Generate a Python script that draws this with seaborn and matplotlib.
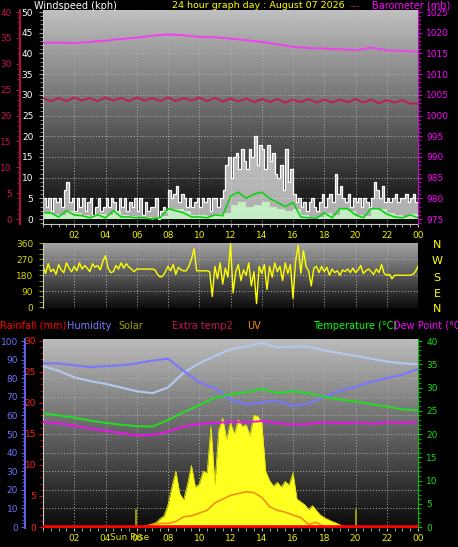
import numpy as np
import pandas as pd
import seaborn as sns
import matplotlib
matplotlib.use("Agg")
import matplotlib.pyplot as plt
from matplotlib.ticker import MultipleLocator

plt.rcParams["font.family"] = ["DejaVu Sans"]

# ---------------- data ----------------
# wind gust, kph, every 10 min from 00:00 to 24:00
gust = [5, 3, 5, 2, 5, 4,  5, 3, 7, 9, 4, 5,  2, 5, 3, 5, 2, 4,  5, 1, 3, 5, 2, 3,
        5, 3, 5, 4, 2, 5,  3, 5, 2, 4, 3, 5,  2, 5, 1, 4, 2, 3,  3, 5, 0, 2, 3, 2,
        7, 5, 6, 8, 4, 6,  5, 3, 5, 3, 4, 5,  3, 5, 4, 5, 2, 5,  5, 3, 5, 7, 13, 15,
        10, 15, 16, 12, 17, 14,  12, 17, 15, 20, 13, 18,  17, 12, 18, 14, 16, 11,
        10, 13, 7, 17, 9, 12,  6, 4, 5, 3, 4, 2,  4, 5, 3, 2, 4, 6,
        3, 5, 6, 4, 11, 6,  8, 5, 4, 6, 3, 5,  4, 5, 3, 5, 4, 3,  5, 9, 7, 5, 8, 4,
        5, 4, 5, 6, 4, 5,  5, 6, 4, 5, 6, 4,  5]
# wind speed and average wind, kph, every 30 min
wind_speed = [1.5, 1.2, 1.0, 2.0, 1.5, 1.0, 0.8, 1.2, 1.0, 2.0, 1.0, 0.8, 0.5, 0.5, 0.3, 0.8,
              2.5, 2.5, 2.0, 1.0, 1.0, 0.8, 1.2, 1.5, 3.5, 4.0, 3.0, 3.5, 4.0, 3.0, 2.5, 2.0,
              2.5, 1.0, 0.5, 0.5, 1.5, 1.0, 2.5, 2.0, 1.0, 0.8, 2.5, 2.5, 1.5, 1.0, 0.8, 1.2, 0.8]
wind_avg = [1.5, 1.5, 0.5, 2.0, 1.0, 0.8, 0.3, 1.0, 0.3, 2.0, 0.5, 0.5, 0.3, 0.3, 0.0, 0.3,
            2.5, 2.0, 1.5, 0.5, 0.5, 0.3, 1.0, 0.8, 5.5, 6.5, 5.0, 6.0, 6.5, 5.0, 4.0, 3.0,
            4.0, 0.5, 0.3, 0.2, 1.5, 0.3, 2.5, 2.5, 1.0, 0.3, 2.5, 2.5, 1.2, 0.5, 0.3, 1.0, 0.3]
# barometer, mb, hourly
pressure = [1017.6, 1017.6, 1017.5, 1017.8, 1018.1, 1018.5, 1018.8, 1019.3, 1019.6, 1019.4,
            1019.0, 1018.9, 1018.6, 1018.2, 1017.8, 1017.2, 1016.6, 1016.3, 1016.2, 1016.0,
            1015.8, 1016.4, 1015.8, 1015.6, 1015.4]
# extra temperature sensor (crimson), every 30 min
extra_temp = [23.4, 22.8, 23.4, 22.8, 23.5, 22.9, 23.4, 22.8, 23.5, 22.9, 23.4, 22.8, 23.5,
              22.9, 23.4, 22.8, 23.5, 22.8, 23.4, 22.9, 23.5, 22.8, 23.4, 22.7, 23.3, 22.7,
              23.3, 22.6, 23.2, 22.6, 23.2, 22.5, 23.1, 22.6, 23.2, 22.5, 23.1, 22.5, 23.1,
              22.6, 23.2, 22.5, 23.1, 22.4, 23.0, 22.5, 23.0, 22.3, 22.3]
# wind direction, degrees, every 10 min
wind_dir = [230, 190, 245, 200, 215, 185,  240, 210, 195, 250, 220, 200,
            230, 205, 250, 215, 235, 220,  200, 245, 225, 235, 210, 260,
            290, 220, 195, 200, 235, 215,  250, 220, 245, 225, 215, 200,
            215, 215, 215, 215, 215, 215,  215, 210, 185, 170, 175, 200,
            230, 205, 240, 185, 225, 210,  205, 205, 230, 270, 330, 205,
            205, 205, 205, 205, 200, 60,   230, 160, 250, 130, 220, 170,
            360, 80, 200, 240, 150, 210,   180, 250, 120, 200, 20, 230,
            190, 240, 100, 230, 170, 250,  200, 230, 150, 250, 190, 240,
            50, 260, 350, 190, 320, 230,   205, 120, 220, 230, 195, 230,
            200, 225, 180, 215, 195, 205,  180, 210, 200, 215, 195, 220,
            195, 210, 235, 190, 205, 215,  200, 185, 215, 195, 240, 190,
            180, 185, 160, 180, 180, 180,  180, 180, 180, 180, 185, 200, 230]
# temperature, dew point, humidity (two sensors), hourly
temperature = [24.5, 24.0, 23.5, 22.9, 22.4, 22.0, 21.7, 21.6, 23.0, 24.7, 26.2, 27.8, 28.5,
               29.0, 29.7, 28.8, 29.2, 28.8, 28.0, 27.4, 27.0, 26.4, 25.9, 25.3, 25.1]
dew_point = [22.6, 22.3, 21.8, 21.2, 20.7, 20.2, 19.7, 19.8, 20.5, 21.6, 22.2, 22.4, 22.6,
             22.5, 22.8, 22.4, 22.0, 22.2, 22.6, 22.3, 22.5, 22.2, 22.6, 22.4, 22.6]
humidity = [88, 88, 87, 86, 86.5, 87, 88, 89.5, 90.5, 84, 78, 74.5, 68.5, 66, 67, 68, 65,
            66.5, 70, 73, 75.5, 78, 80, 82, 85]
humidity2 = [86.5, 84, 80.5, 78.5, 77, 75, 73, 72, 75, 83, 88, 92, 95.5, 97, 99, 96.5, 97,
             97, 95, 93.5, 92, 90.5, 89, 88, 87.5]
# solar radiation, every 15 min
solar = [0] * 24 + [0, 0, 5, 10, 15, 25, 45, 60, 120, 215, 300, 180, 145, 230, 330, 215,
                    230, 300, 290, 540, 230, 520, 585, 470, 560, 500, 575, 540,
                    550, 490, 600, 595, 560, 300, 250, 220, 240, 215, 245, 225,
                    290, 150, 135, 120, 95, 115, 88, 65, 50, 40, 30, 22, 12, 5, 0, 0] + [0] * 17
# UV index, every 30 min
uv = [0] * 14 + [0.3, 0.4, 0.4, 0.6, 1.1, 1.2, 1.5, 1.8, 2.6, 3.0, 3.4, 3.6, 3.8, 3.7, 3.2,
                 2.2, 1.8, 1.6, 1.3, 1.0, 0.3, 0.5, 0.0] + [0] * 12
rainfall = [0.0] * 25
sun_events = [5.95, 20.05]

x_ticks = list(range(2, 25, 2))
x_labels = ["02", "04", "06", "08", "10", "12", "14", "16", "18", "20", "22", "00"]

t10 = np.arange(len(gust)) / 6
t15 = np.arange(len(solar)) / 4
t30 = np.arange(len(wind_avg)) / 2
t60 = np.arange(len(pressure))

W, H = 458, 547
fig = plt.figure(figsize=(W / 100, H / 100), dpi=100, facecolor="black")


def panel(l, t, r, b):
    return fig.add_axes([l / W, 1 - b / H, (r - l) / W, (b - t) / H])


def shade(ax, top, bottom):
    g = np.linspace(top, bottom, 200)
    img = np.repeat(g[:, None], 2, axis=1)
    ax.imshow(img, cmap="gray", vmin=0, vmax=255, extent=[0, 1, 0, 1],
              transform=ax.transAxes, aspect="auto", zorder=0, interpolation="bilinear")


def dotted_grid(ax, ys):
    for x in x_ticks[:-1]:
        ax.axvline(x, color="#b0b0b0", ls=(0, (1, 2)), lw=0.7, zorder=0.5)
    for y in ys:
        ax.axhline(y, color="#b0b0b0", ls=(0, (1, 2)), lw=0.7, zorder=0.5)


def clean(ax):
    ax.set_xlabel("")
    ax.set_ylabel("")
    for s in ax.spines.values():
        s.set_visible(False)


FS = 6.5

# ---------------- top panel: wind + barometer ----------------
ax1 = panel(43, 10, 418, 224)
ax1.set_facecolor("black")
shade(ax1, 192, 8)
dotted_grid(ax1, range(5, 50, 5))
ax1.fill_between(t10, gust, step="post", color="#e6e6e6", alpha=0.75, lw=0, zorder=1)
sns.lineplot(x=t10, y=gust, drawstyle="steps-post", color="white", lw=0.9, ax=ax1)
ax1.fill_between(t30, wind_speed, step="post", color="#c8f5c8", alpha=0.9, lw=0, zorder=2)
sns.lineplot(x=t30, y=wind_avg, color="#10d010", lw=1.2, ax=ax1)
clean(ax1)
for s in ("left", "bottom"):
    ax1.spines[s].set_visible(True)
    ax1.spines[s].set_color("#c8c8c8")
ax1.set_ylim(-1.2, 50.5)
ax1.set_yticks(range(0, 51, 5))
ax1.yaxis.set_minor_locator(MultipleLocator(1))
ax1.tick_params(axis="y", which="both", color="#a0a0a0", labelcolor="white",
                labelsize=FS, length=3, pad=4)
ax1.tick_params(axis="y", which="minor", length=2)
ax1.set_xticks(x_ticks)
ax1.set_xticklabels(x_labels)
ax1.xaxis.set_minor_locator(MultipleLocator(0.5))
ax1.tick_params(axis="x", which="both", color="#c0c0c0", labelcolor="#f0f000",
                labelsize=FS, length=2, pad=3)

bar = ax1.twinx()
sns.lineplot(x=t60, y=pressure, color="#f040f0", lw=1.4, ax=bar)
clean(bar)
bar.spines["right"].set_visible(True)
bar.spines["right"].set_color("#d000d0")
bar.set_ylim(973.8, 1025.5)
bar.set_yticks(range(975, 1026, 5))
bar.yaxis.set_minor_locator(MultipleLocator(1))
bar.tick_params(axis="y", which="both", color="#d000d0", labelcolor="#ff00ff",
                labelsize=FS, length=3, pad=3)
bar.tick_params(axis="y", which="minor", length=2)

ext = ax1.twinx()
sns.lineplot(x=t30, y=extra_temp, color="#c8164e", lw=1.3, ax=ext)
clean(ext)
ext.yaxis.set_ticks_position("left")
ext.spines["left"].set_visible(True)
ext.spines["left"].set_position(("outward", 23 * 0.72))
ext.spines["left"].set_color("#b0103c")
ext.spines["left"].set_linewidth(1.5)
ext.set_ylim(-0.96, 40.4)
ext.set_yticks(range(0, 41, 5))
ext.yaxis.set_minor_locator(MultipleLocator(1))
ext.tick_params(axis="y", which="both", color="#b0103c", labelcolor="#c8145a",
                labelsize=FS, length=3, pad=3)
ext.tick_params(axis="y", which="minor", length=2)
ax1.set_xlim(0, 24)

# ---------------- middle panel: wind direction ----------------
ax2 = panel(43, 243, 418, 308)
ax2.set_facecolor("black")
shade(ax2, 165, 12)
dotted_grid(ax2, [90, 180, 270])
sns.lineplot(x=t10, y=wind_dir, color="#ffff00", lw=1.0, ax=ax2)
clean(ax2)
ax2.spines["left"].set_visible(True)
ax2.spines["left"].set_color("#c8c8c8")
ax2.set_xlim(0, 24)
ax2.set_ylim(-5, 362)
ax2.set_yticks([0, 90, 180, 270, 360])
ax2.yaxis.set_minor_locator(MultipleLocator(30))
ax2.tick_params(axis="y", which="both", color="#a0a000", labelcolor="#d8d800",
                labelsize=FS, length=3, pad=4)
ax2.set_xticks([])
for lab, y in zip(["N", "W", "S", "E", "N"], [245, 261, 278, 294, 309]):
    fig.text(437 / W, 1 - y / H, lab, color="#ffff00", fontsize=8, ha="center", va="center")

# ---------------- bottom panel: temperature, humidity, solar ----------------
ax3 = panel(43, 339, 418, 528)
ax3.set_facecolor("black")
shade(ax3, 188, 10)
dotted_grid(ax3, [v * 0.3 for v in range(10, 100, 10)])
clean(ax3)
ax3.spines["left"].set_visible(True)
ax3.spines["left"].set_color("#c8c8c8")
ax3.set_ylim(-0.16, 30.3)
ax3.set_yticks(range(0, 31, 5))
ax3.yaxis.set_minor_locator(MultipleLocator(1))
ax3.tick_params(axis="y", which="both", color="#e00000", labelcolor="#ff2020",
                labelsize=FS, length=3, pad=2)
ax3.tick_params(axis="y", which="minor", length=2)
ax3.set_xticks(x_ticks)
ax3.set_xticklabels(x_labels)
ax3.xaxis.set_minor_locator(MultipleLocator(0.5))
ax3.tick_params(axis="x", which="both", color="#c0c0c0", labelcolor="#f0f000",
                labelsize=FS, length=2, pad=2)

sol = ax3.twinx()
sol.fill_between(t15, solar, color="#ffff20", lw=0)
sns.lineplot(x=t15, y=solar, color="#e8e800", lw=0.6, ax=sol)
for t in sun_events:
    sol.plot([t, t], [0, 90], color="#b0b000", lw=1.2)
sol.set_ylim(-5, 1010)
clean(sol)
sol.set_yticks([])

uvx = ax3.twinx()
sns.lineplot(x=t30, y=uv, color="#f09010", lw=1.2, ax=uvx)
uvx.set_ylim(-0.1, 20.2)
clean(uvx)
uvx.set_yticks([])

hum = ax3.twinx()
sns.lineplot(x=t60, y=humidity2, color="#b4c8f0", lw=1.5, ax=hum)
sns.lineplot(x=t60, y=humidity, color="#7878ff", lw=1.5, ax=hum)
clean(hum)
hum.yaxis.set_ticks_position("left")
hum.spines["left"].set_visible(True)
hum.spines["left"].set_position(("outward", 18 * 0.72))
hum.spines["left"].set_color("#6060e0")
hum.spines["left"].set_linewidth(1.5)
hum.set_ylim(-0.5, 101.1)
hum.set_yticks(range(0, 101, 10))
hum.yaxis.set_minor_locator(MultipleLocator(2))
hum.tick_params(axis="y", which="both", color="#6060e0", labelcolor="#7070ff",
                labelsize=FS, length=3, pad=2)
hum.tick_params(axis="y", which="minor", length=2)

tmp = ax3.twinx()
sns.lineplot(x=t60, y=dew_point, color="#f010f0", lw=1.4, ax=tmp)
sns.lineplot(x=t60, y=temperature, color="#20e020", lw=1.4, ax=tmp)
clean(tmp)
tmp.spines["right"].set_visible(True)
tmp.spines["right"].set_color("#00c000")
tmp.set_ylim(-0.2, 40.43)
tmp.set_yticks(range(0, 41, 5))
tmp.yaxis.set_minor_locator(MultipleLocator(1))
tmp.tick_params(axis="y", which="both", color="#00c000", labelcolor="#10e010",
                labelsize=FS, length=3, pad=3)
tmp.tick_params(axis="y", which="minor", length=2)

rain = ax3.twinx()
sns.lineplot(x=t60, y=rainfall, color="#ff0000", lw=2.6, ax=rain)
rain.set_ylim(-0.16, 30.3)
clean(rain)
rain.set_yticks([])
ax3.set_xlim(0, 24)

# ---------------- texts ----------------
def label(x, y, s, c, size=7, ha="left"):
    fig.text(x / W, 1 - y / H, s, color=c, fontsize=size, ha=ha, va="center")


label(34, 6, "Windspeed (kph)", "white")
label(172, 6, "24 hour graph day : August 07 2026", "#ffff00", size=6.8)
label(350, 6, "---", "#c8145a")
label(372, 5, "Barometer (mb)", "#ff00ff")

label(0, 326, "Rainfall (mm)", "#ff0000")
label(67, 326, "Humidity", "#7878ff")
label(118, 326, "Solar", "#a0a000")
label(172, 326, "Extra temp2", "#c8145a")
label(247, 326, "UV", "#ff8c00")
label(313, 326, "Temperature (°C)", "#00ff00")
label(393, 326, "Dew Point (°C)", "#ff00ff")
label(130, 537, "Sun Rise", "#e0e000", size=FS, ha="center")

fig.savefig("out.png", dpi=100, facecolor="black")
